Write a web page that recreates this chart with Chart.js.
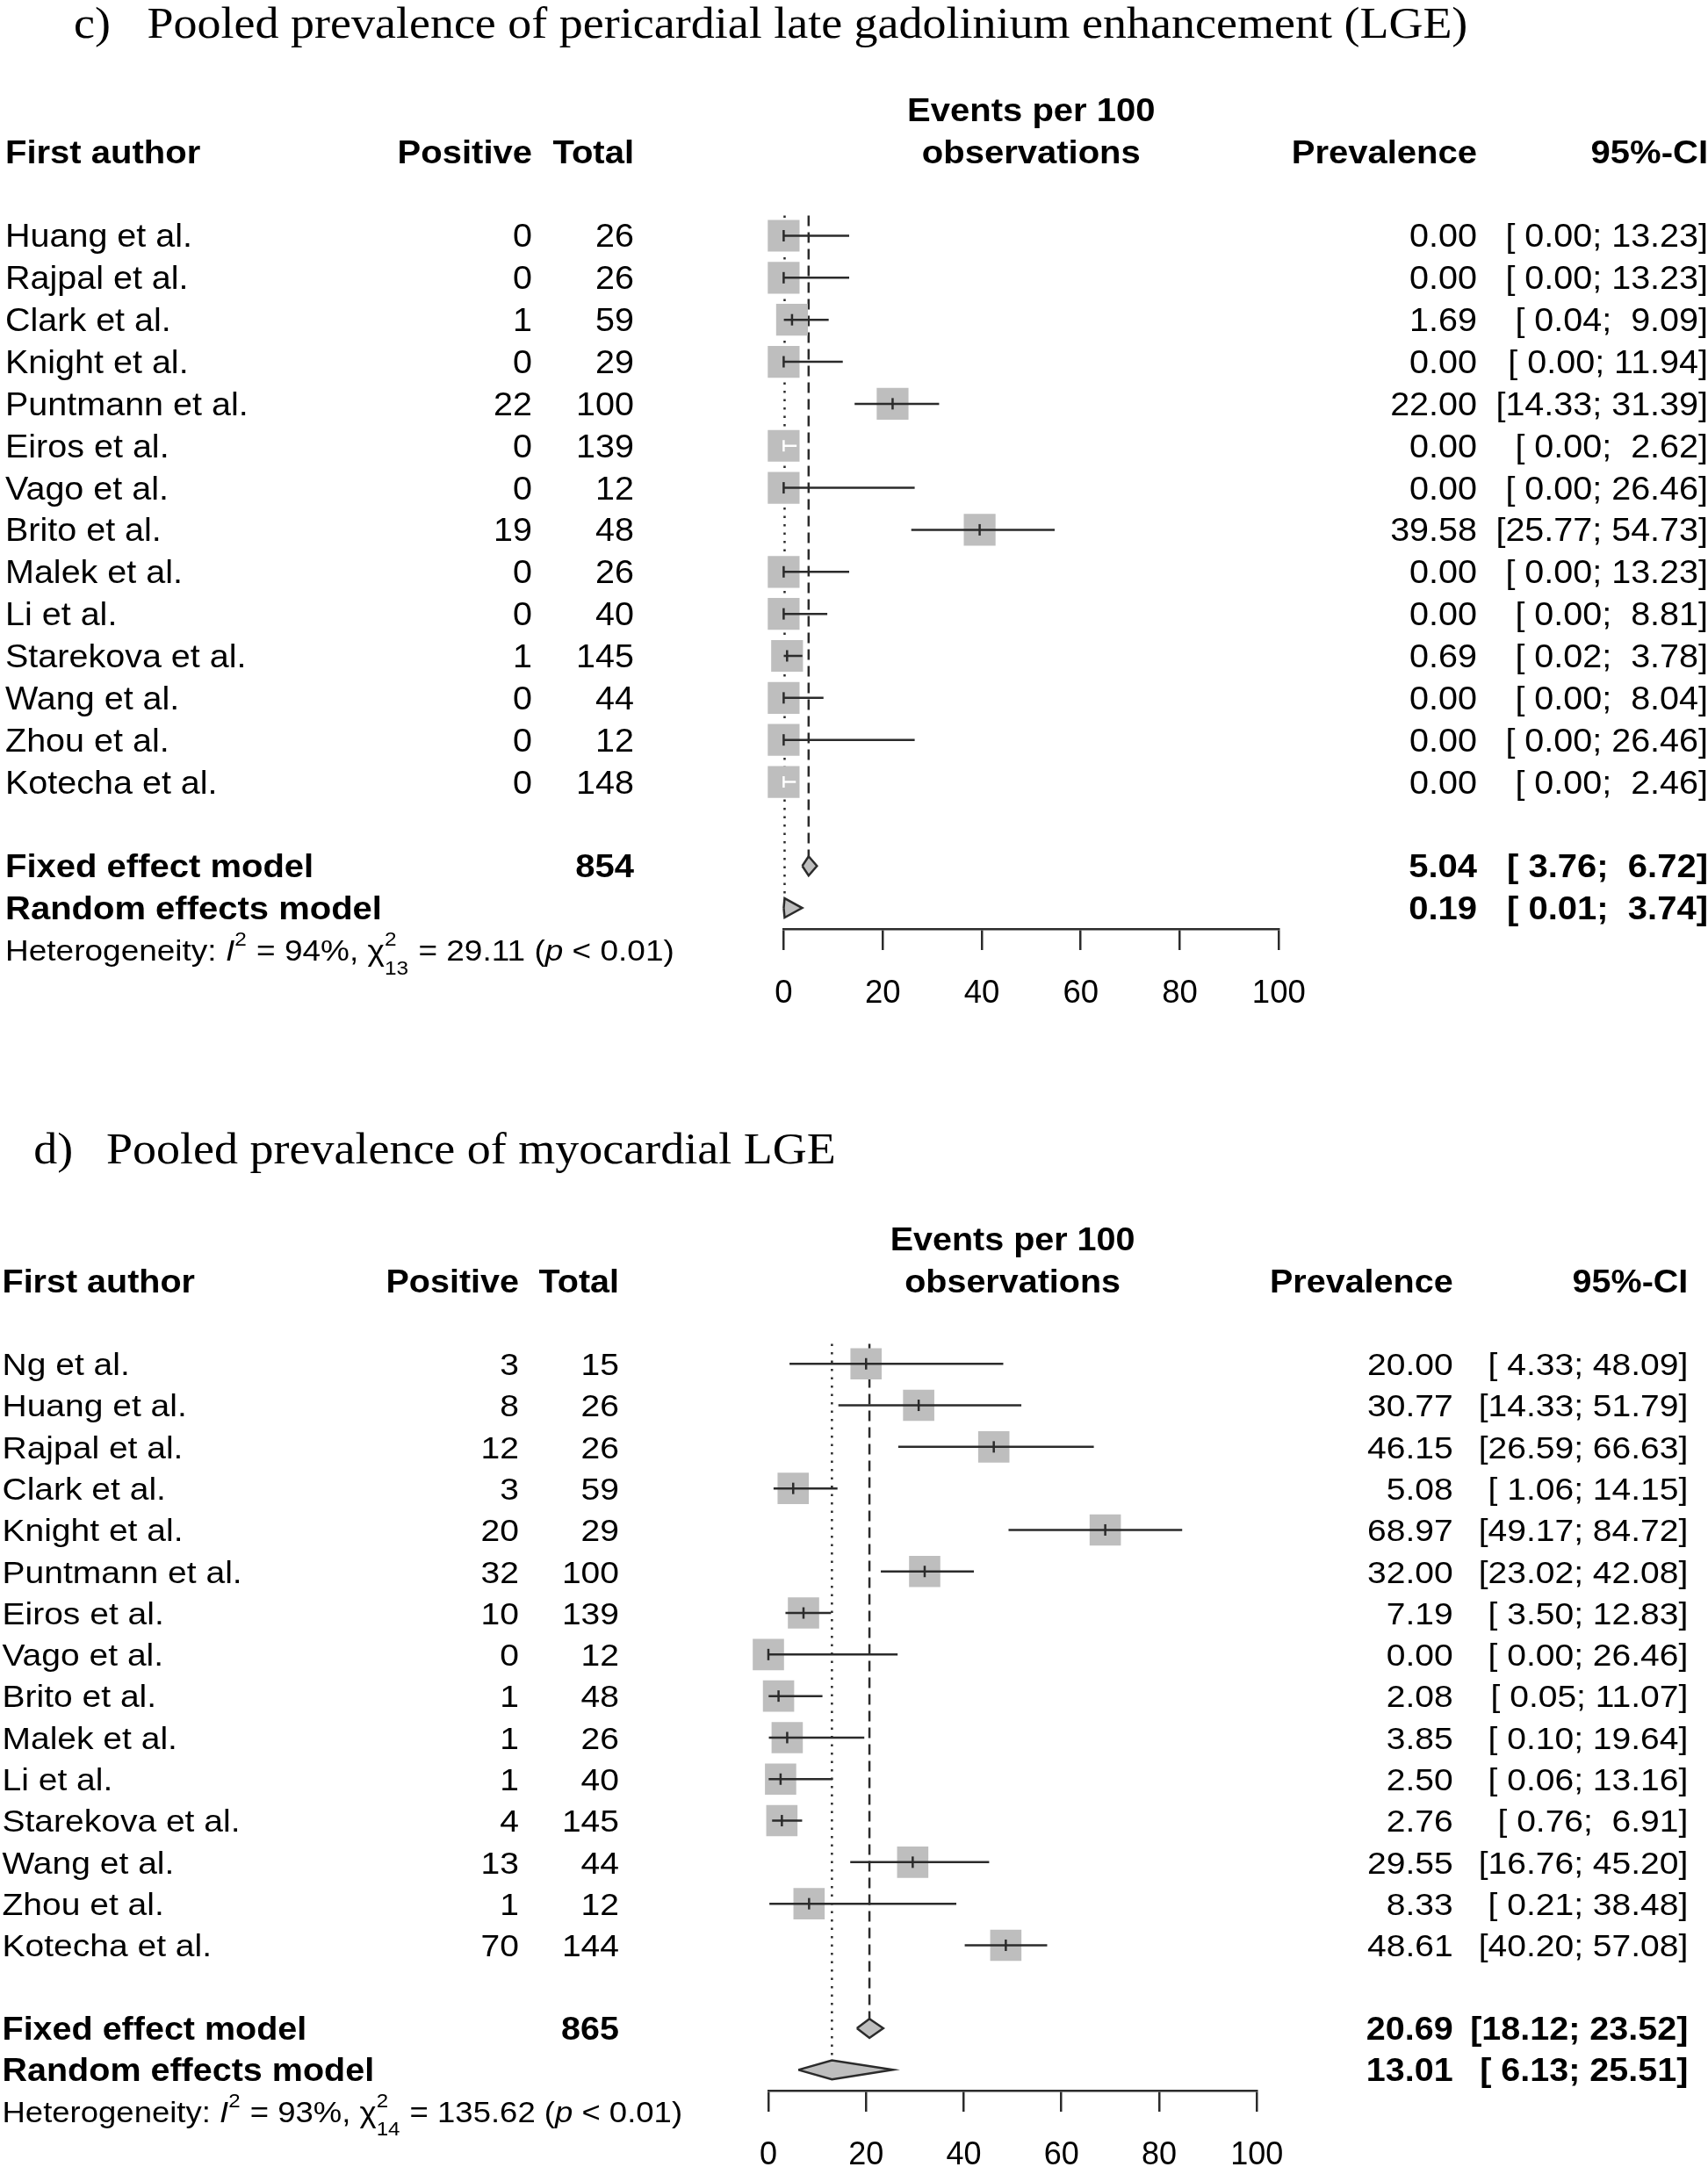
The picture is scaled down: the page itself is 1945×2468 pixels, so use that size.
<!DOCTYPE html>
<html>
<head>
<meta charset="utf-8">
<script src="https://cdn.jsdelivr.net/npm/chart.js@4.4.1/dist/chart.umd.min.js"></script>
<style>
html,body{margin:0;padding:0;background:#fff;}
body{width:1945px;height:2468px;position:relative;overflow:hidden;}
canvas{position:absolute;left:0;}
</style>
</head>
<body>
<canvas id="cC" width="1945" height="1180" style="top:0;width:1945px;height:1180px"></canvas>
<canvas id="cD" width="1945" height="1288" style="top:1180px;width:1945px;height:1288px"></canvas>
<script>
// ---------------- DATA ----------------
const titleC = ["c)", "Pooled prevalence of pericardial late gadolinium enhancement (LGE)"];
const titleD = ["d)", "Pooled prevalence of myocardial LGE"];
const headers = ["First author", "Positive", "Total", "Events per 100", "observations", "Prevalence", "95%-CI"];
const summaryLabels = ["Fixed effect model", "Random effects model"];
const xTicks = [0, 20, 40, 60, 80, 100];

const authorsC = ["Huang et al.", "Rajpal et al.", "Clark et al.", "Knight et al.", "Puntmann et al.", "Eiros et al.", "Vago et al.", "Brito et al.", "Malek et al.", "Li et al.", "Starekova et al.", "Wang et al.", "Zhou et al.", "Kotecha et al."];
const positiveC = [0, 0, 1, 0, 22, 0, 0, 19, 0, 0, 1, 0, 0, 0];
const totalC = [26, 26, 59, 29, 100, 139, 12, 48, 26, 40, 145, 44, 12, 148];
const prevC = [0.00, 0.00, 1.69, 0.00, 22.00, 0.00, 0.00, 39.58, 0.00, 0.00, 0.69, 0.00, 0.00, 0.00];
const lowerC = [0.00, 0.00, 0.04, 0.00, 14.33, 0.00, 0.00, 25.77, 0.00, 0.00, 0.02, 0.00, 0.00, 0.00];
const upperC = [13.23, 13.23, 9.09, 11.94, 31.39, 2.62, 26.46, 54.73, 13.23, 8.81, 3.78, 8.04, 26.46, 2.46];
const fixedC = [5.04, 3.76, 6.72];   // estimate, lower, upper
const randomC = [0.19, 0.01, 3.74];
const sumTotalC = 854;
const hetC = [94, 29.11, 13, "< 0.01"]; // I2 %, chi2, df, p

const authorsD = ["Ng et al.", "Huang et al.", "Rajpal et al.", "Clark et al.", "Knight et al.", "Puntmann et al.", "Eiros et al.", "Vago et al.", "Brito et al.", "Malek et al.", "Li et al.", "Starekova et al.", "Wang et al.", "Zhou et al.", "Kotecha et al."];
const positiveD = [3, 8, 12, 3, 20, 32, 10, 0, 1, 1, 1, 4, 13, 1, 70];
const totalD = [15, 26, 26, 59, 29, 100, 139, 12, 48, 26, 40, 145, 44, 12, 144];
const prevD = [20.00, 30.77, 46.15, 5.08, 68.97, 32.00, 7.19, 0.00, 2.08, 3.85, 2.50, 2.76, 29.55, 8.33, 48.61];
const lowerD = [4.33, 14.33, 26.59, 1.06, 49.17, 23.02, 3.50, 0.00, 0.05, 0.10, 0.06, 0.76, 16.76, 0.21, 40.20];
const upperD = [48.09, 51.79, 66.63, 14.15, 84.72, 42.08, 12.83, 26.46, 11.07, 19.64, 13.16, 6.91, 45.20, 38.48, 57.08];
const fixedD = [20.69, 18.12, 23.52];
const randomD = [13.01, 6.13, 25.51];
const sumTotalD = 865;
const hetD = [93, 135.62, 14, "< 0.01"];

// ---------------- STYLE / LAYOUT ----------------
const VS = 0.92; // vertical text squash of the source image
const SANS = '"Liberation Sans", Arial, Helvetica, sans-serif';
const SERIF = '"Liberation Serif", "Times New Roman", serif';
const BOX = '#BEBEBE';
const INK = '#2b2b2b';
const LW = 2.5;

const panelC = {
  canvas: 'cC', canvasH: 1180, left: 892.4, right: 1456.3, axisY: 1058, rowH: 47.85, yMin: -5, yMax: 16.5,
  labelX: 6, posR: 606, totR: 722, prevR: 1682, ciR: 1945, center: 1174.3,
  fs: 39.5, fsB: 40, fsHet: 37, fsTick: 36.5, fsTitle: 54, titleX: [84, 167.5], titleRow: -4.72,
  boxSide: 36.2, insideHalf: 17, tickR: 6.5, diamondHalf: 0.23,
  title: titleC, authors: authorsC, positive: positiveC, total: totalC, prev: prevC, lower: lowerC, upper: upperC,
  fixed: fixedC, random: randomC, sumTotal: sumTotalC, het: hetC
};
const panelD = {
  canvas: 'cD', canvasH: 1288, left: 875, right: 1431.2, axisY: 1201, rowH: 47.3, yMin: -5, yMax: 17.5,
  labelX: 2.5, posR: 591, totR: 705, prevR: 1654.6, ciR: 1922.3, center: 1153.1,
  fs: 39, fsB: 39.5, fsHet: 36.5, fsTick: 36, fsTitle: 54, titleX: [38.3, 121], titleRow: -4.82,
  boxSide: 35.6, insideHalf: 17, tickR: 6.5, diamondHalf: 0.23,
  title: titleD, authors: authorsD, positive: positiveD, total: totalD, prev: prevD, lower: lowerD, upper: upperD,
  fixed: fixedD, random: randomD, sumTotal: sumTotalD, het: hetD
};

// ---------------- HELPERS ----------------
const fnt = (w, s, fam) => `${w} ${s}px ${fam || SANS}`;
function drawT(ctx, txt, x, y, font, align) {
  ctx.save();
  ctx.translate(x, y);
  ctx.scale(1, VS);
  ctx.font = font;
  ctx.textAlign = align || 'left';
  ctx.textBaseline = 'alphabetic';
  ctx.fillText(txt, 0, 0);
  ctx.restore();
}
const pad5 = v => v.toFixed(2).padStart(5, ' ');
const ciStr = (lo, hi) => `[${pad5(lo)}; ${pad5(hi)}]`;

function drawHet(ctx, x, y, fs, het) {
  let cx = x;
  const seg = (t, style, size, dy) => {
    const f = fnt(style, size);
    ctx.font = f;
    const w = ctx.measureText(t).width;
    drawT(ctx, t, cx, y + (dy || 0), f, 'left');
    return w;
  };
  const small = fs * 0.66;
  cx += seg('Heterogeneity: ', 'normal', fs);
  cx += seg('I', 'italic', fs);
  cx += seg('2', 'normal', small, -fs * 0.47) + 1;
  cx += seg(` = ${het[0]}%, `, 'normal', fs);
  cx += seg('\u03C7', 'normal', fs);
  const w1 = seg('2', 'normal', small, -fs * 0.47);
  const w2 = seg(String(het[2]), 'normal', small, fs * 0.42);
  cx += Math.max(w1, w2) + 1;
  cx += seg(` = ${het[1].toFixed(2)} (`, 'normal', fs);
  cx += seg('p', 'italic', fs);
  cx += seg(` ${het[3]})`, 'normal', fs);
}

function textPlugin(P) {
  return {
    id: 'forestText',
    afterDraw(chart) {
      const ctx = chart.ctx;
      const ys = chart.scales.y;
      const Y = r => ys.getPixelForValue(r);
      const base = (r, fs) => Y(r) + 0.358 * fs * VS;
      const n = P.authors.length;
      ctx.save();
      ctx.fillStyle = '#000';
      // title
      drawT(ctx, P.title[0], P.titleX[0], Y(P.titleRow), fnt('normal', P.fsTitle, SERIF), 'left');
      drawT(ctx, P.title[1], P.titleX[1], Y(P.titleRow), fnt('normal', P.fsTitle, SERIF), 'left');
      // headers
      const hb = fnt('bold', P.fsB);
      drawT(ctx, headers[0], P.labelX, base(-2, P.fsB), hb, 'left');
      drawT(ctx, headers[1], P.posR, base(-2, P.fsB), hb, 'right');
      drawT(ctx, headers[2], P.totR, base(-2, P.fsB), hb, 'right');
      drawT(ctx, headers[3], P.center, base(-3, P.fsB), hb, 'center');
      drawT(ctx, headers[4], P.center, base(-2, P.fsB), hb, 'center');
      drawT(ctx, headers[5], P.prevR, base(-2, P.fsB), hb, 'right');
      drawT(ctx, headers[6], P.ciR, base(-2, P.fsB), hb, 'right');
      // study rows
      const rf = fnt('normal', P.fs);
      for (let i = 0; i < n; i++) {
        const b = base(i, P.fs);
        drawT(ctx, P.authors[i], P.labelX, b, rf, 'left');
        drawT(ctx, String(P.positive[i]), P.posR, b, rf, 'right');
        drawT(ctx, String(P.total[i]), P.totR, b, rf, 'right');
        drawT(ctx, P.prev[i].toFixed(2), P.prevR, b, rf, 'right');
        drawT(ctx, ciStr(P.lower[i], P.upper[i]), P.ciR, b, rf, 'right');
      }
      // summaries
      const fr = n + 1, rr = n + 2, hr = n + 3;
      let b = base(fr, P.fsB);
      drawT(ctx, summaryLabels[0], P.labelX, b, hb, 'left');
      drawT(ctx, String(P.sumTotal), P.totR, b, hb, 'right');
      drawT(ctx, P.fixed[0].toFixed(2), P.prevR, b, hb, 'right');
      drawT(ctx, ciStr(P.fixed[1], P.fixed[2]), P.ciR, b, hb, 'right');
      b = base(rr, P.fsB);
      drawT(ctx, summaryLabels[1], P.labelX, b, hb, 'left');
      drawT(ctx, P.random[0].toFixed(2), P.prevR, b, hb, 'right');
      drawT(ctx, ciStr(P.random[1], P.random[2]), P.ciR, b, hb, 'right');
      drawHet(ctx, P.labelX, base(hr, P.fsHet), P.fsHet, P.het);
      ctx.restore();
    }
  };
}

function datasetsFor(P) {
  const n = P.authors.length;
  const pxPerUnit = (P.right - P.left) / 100;
  const half = P.insideHalf / pxPerUnit;
  const inside = P.prev.map((e, i) => P.lower[i] >= e - half && P.upper[i] <= e + half);
  const fr = n + 1, rr = n + 2;
  const ciPts = flag => {
    const pts = [];
    P.prev.forEach((e, i) => {
      if (inside[i] === flag) pts.push({x: P.lower[i], y: i}, {x: P.upper[i], y: i}, {x: null, y: null});
    });
    return pts;
  };
  const estPts = flag => P.prev.map((e, i) => ({x: e, y: i})).filter((p, i) => inside[i] === flag);
  const diamond = (s, r) => [
    {x: s[1], y: r}, {x: s[0], y: r - P.diamondHalf}, {x: s[2], y: r}, {x: s[0], y: r + P.diamondHalf}, {x: s[1], y: r}
  ];
  const common = {clip: false, pointRadius: 0, pointHoverRadius: 0};
  return [
    Object.assign({type: 'line', label: 'fixed ref', order: 7, data: [{x: P.fixed[0], y: -0.48}, {x: P.fixed[0], y: fr - 0.23}],
      borderColor: INK, borderWidth: LW, borderDash: [12, 7], fill: false}, common),
    Object.assign({type: 'line', label: 'random ref', order: 6, data: [{x: P.random[0], y: -0.48}, {x: P.random[0], y: rr - 0.23}],
      borderColor: INK, borderWidth: LW, borderDash: [2.5, 7], fill: false}, common),
    {type: 'scatter', label: 'squares', order: 5, clip: false, data: P.prev.map((e, i) => ({x: e, y: i})),
      pointStyle: 'rect', pointRadius: P.boxSide / Math.SQRT2, pointHoverRadius: P.boxSide / Math.SQRT2,
      backgroundColor: BOX, borderWidth: 0, pointBorderWidth: 0},
    Object.assign({type: 'line', label: 'ci', order: 4, data: ciPts(false), borderColor: INK, borderWidth: LW, spanGaps: false, fill: false}, common),
    Object.assign({type: 'line', label: 'ci inside', order: 3, data: ciPts(true), borderColor: '#ffffff', borderWidth: LW, spanGaps: false, fill: false}, common),
    {type: 'scatter', label: 'est', order: 2, clip: false, data: estPts(false), pointStyle: 'line', pointRotation: 90,
      pointRadius: P.tickR, pointHoverRadius: P.tickR, borderColor: INK, pointBorderColor: INK, pointBorderWidth: LW, borderWidth: LW},
    {type: 'scatter', label: 'est inside', order: 2, clip: false, data: estPts(true), pointStyle: 'line', pointRotation: 90,
      pointRadius: P.tickR, pointHoverRadius: P.tickR, borderColor: '#ffffff', pointBorderColor: '#ffffff', pointBorderWidth: LW, borderWidth: LW},
    Object.assign({type: 'line', label: 'fixed diamond', order: 1, data: diamond(P.fixed, fr), fill: 'shape', tension: 0,
      backgroundColor: BOX, borderColor: INK, borderWidth: LW, borderJoinStyle: 'miter'}, common),
    Object.assign({type: 'line', label: 'random diamond', order: 1, data: diamond(P.random, rr), fill: 'shape', tension: 0,
      backgroundColor: BOX, borderColor: INK, borderWidth: LW, borderJoinStyle: 'miter'}, common)
  ];
}

function makePanel(P) {
  const top = P.axisY - (P.yMax - P.yMin) * P.rowH;
  const axisH = P.canvasH - P.axisY;
  const ctx = document.getElementById(P.canvas).getContext('2d');
  return new Chart(ctx, {
    type: 'scatter',
    data: {datasets: datasetsFor(P)},
    options: {
      responsive: false, animation: false, devicePixelRatio: 1, events: [],
      layout: {padding: {left: P.left, right: 1945 - P.right, top: top, bottom: 0}},
      plugins: {legend: {display: false}, tooltip: {enabled: false}, filler: {propagate: false}},
      scales: {
        x: {
          type: 'linear', position: 'bottom', min: 0, max: 100,
          afterBuildTicks: s => { s.ticks = xTicks.map(v => ({value: v})); },
          afterFit: s => { s.height = axisH; },
          grid: {drawOnChartArea: false, drawTicks: true, tickLength: 24, color: INK, lineWidth: LW, offset: false},
          border: {display: true, color: INK, width: LW},
          ticks: {font: {family: SANS, size: P.fsTick}, color: '#000', padding: 28, maxRotation: 0, autoSkip: false}
        },
        y: {type: 'linear', display: false, reverse: true, min: P.yMin, max: P.yMax}
      }
    },
    plugins: [textPlugin(P)]
  });
}

makePanel(panelC);
makePanel(panelD);
</script>
</body>
</html>
